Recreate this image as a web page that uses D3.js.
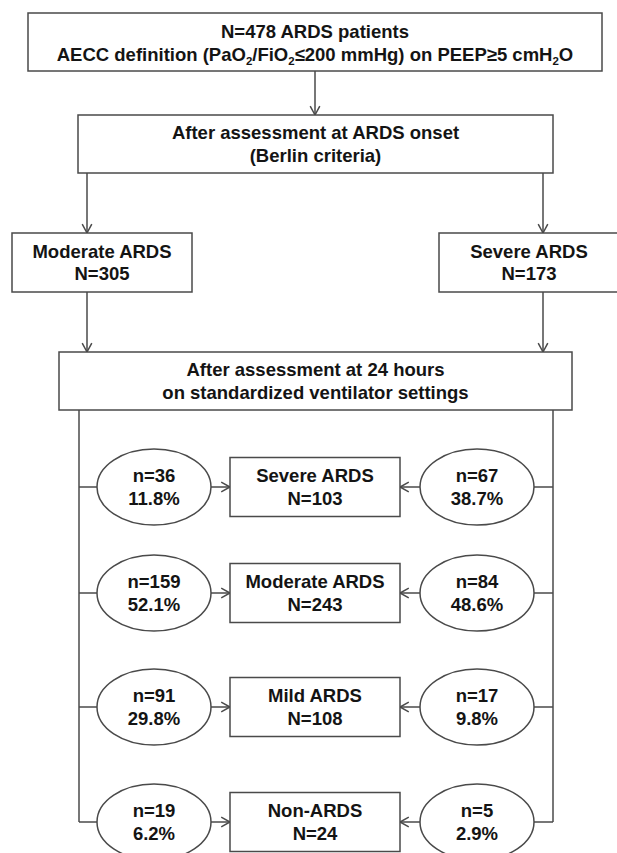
<!DOCTYPE html>
<html>
<head>
<meta charset="utf-8">
<script src="https://cdn.jsdelivr.net/npm/d3@7"></script>
<style>
  html, body { margin: 0; padding: 0; background: #fff; }
  svg { display: block; }
  text { font-family: "Liberation Sans", Arial, sans-serif; font-weight: bold; fill: #141414; }
</style>
</head>
<body>
<div id="chart"></div>
<script>
// ---------- data ----------
const totalN = 478;
const onsetCategories = ["Moderate ARDS", "Severe ARDS"];
const onsetCounts = [305, 173];
const outcomeCategories = ["Severe ARDS", "Moderate ARDS", "Mild ARDS", "Non-ARDS"];
const outcomeTotals = [103, 243, 108, 24];
const fromModerateN = [36, 159, 91, 19];
const fromModeratePct = ["11.8", "52.1", "29.8", "6.2"];
const fromSevereN = [67, 84, 17, 5];
const fromSeverePct = ["38.7", "48.6", "9.8", "2.9"];

// ---------- layout ----------
const W = 617, H = 853;
const FS = 18.5, LH = 22.5;
const stroke = "#4a4a4a", sw = 1.5;

const svg = d3.select("#chart").append("svg").attr("width", W).attr("height", H);

const rowY = d3.scaleOrdinal().domain(outcomeCategories).range([487, 593, 707, 822]);
const onsetX = d3.scaleOrdinal().domain(onsetCategories).range([102, 529]);
const onsetArrowX = d3.scaleOrdinal().domain(onsetCategories).range([87, 543]);

function box(x, y, w, h) {
  svg.append("rect").attr("x", x).attr("y", y).attr("width", w).attr("height", h)
    .attr("fill", "#fff").attr("stroke", stroke).attr("stroke-width", sw);
}
function line(x1, y1, x2, y2) {
  svg.append("line").attr("x1", x1).attr("y1", y1).attr("x2", x2).attr("y2", y2)
    .attr("stroke", stroke).attr("stroke-width", sw);
}
function arrow(x1, y1, x2, y2) {
  line(x1, y1, x2, y2);
  const a = Math.atan2(y2 - y1, x2 - x1), L = 10, spread = 0.5;
  const p = d3.path();
  p.moveTo(x2 - L * Math.cos(a - spread), y2 - L * Math.sin(a - spread));
  p.lineTo(x2, y2);
  p.lineTo(x2 - L * Math.cos(a + spread), y2 - L * Math.sin(a + spread));
  svg.append("path").attr("d", p.toString()).attr("fill", "none")
    .attr("stroke", stroke).attr("stroke-width", sw);
}
function lines(cx, cy, arr) {
  const t = svg.append("text").attr("text-anchor", "middle").attr("font-size", FS);
  const y0 = cy - (arr.length - 1) * LH / 2;
  arr.forEach((s, i) => {
    t.append("tspan").attr("x", cx).attr("y", y0 + i * LH).attr("dy", "0.35em").text(s);
  });
  return t;
}

// ---------- top box ----------
box(28, 13, 574, 58);
svg.append("text").attr("text-anchor", "middle").attr("font-size", FS)
  .attr("x", 315).attr("y", 32).attr("dy", "0.35em").text(`N=${totalN} ARDS patients`);
const parts = [["AECC definition (PaO", 0], ["2", 1], ["/FiO", 0], ["2", 1], ["≤200 mmHg) on PEEP≥5 cmH", 0], ["2", 1], ["O", 0]];
const l2t = svg.append("text").attr("text-anchor", "middle").attr("font-size", FS)
  .attr("x", 315).attr("y", 54.5 + 6.5);
let prevSub = 0;
parts.forEach(([s, sub]) => {
  const ts = l2t.append("tspan").text(s);
  if (sub) { ts.attr("font-size", FS * 0.62).attr("dy", 4); }
  else if (prevSub) { ts.attr("dy", -4); }
  prevSub = sub;
});

arrow(315, 71, 315, 115);

// ---------- onset assessment ----------
box(78, 115, 475, 58);
lines(315.5, 144, ["After assessment at ARDS onset", "(Berlin criteria)"]);

onsetCategories.forEach((c, i) => {
  const ax = onsetArrowX(c);
  arrow(ax, 173, ax, 233);
  const cx = onsetX(c);
  box(cx - 90, 233, 180, 59);
  lines(cx, 262.5, [c, `N=${onsetCounts[i]}`]);
  arrow(ax, 292, ax, 352);
});

// ---------- 24h assessment ----------
box(59, 352, 513, 58);
lines(315.5, 381, ["After assessment at 24 hours", "on standardized ventilator settings"]);

const leftX = 79, rightX = 553;
const lastY = rowY(outcomeCategories[outcomeCategories.length - 1]);
line(leftX, 410, leftX, lastY);
line(rightX, 410, rightX, lastY);

const ex = 57, ey = 38;
const lcx = 154, rcx = 477;
const bx0 = 230, bx1 = 400, bh = 59;

outcomeCategories.forEach((c, i) => {
  const y = rowY(c);
  // left branch
  line(leftX, y, lcx - ex, y);
  svg.append("ellipse").attr("cx", lcx).attr("cy", y).attr("rx", ex).attr("ry", ey)
    .attr("fill", "#fff").attr("stroke", stroke).attr("stroke-width", sw);
  lines(lcx, y, [`n=${fromModerateN[i]}`, `${fromModeratePct[i]}%`]);
  arrow(lcx + ex, y, bx0, y);
  // right branch
  line(rightX, y, rcx + ex, y);
  svg.append("ellipse").attr("cx", rcx).attr("cy", y).attr("rx", ex).attr("ry", ey)
    .attr("fill", "#fff").attr("stroke", stroke).attr("stroke-width", sw);
  lines(rcx, y, [`n=${fromSevereN[i]}`, `${fromSeverePct[i]}%`]);
  arrow(rcx - ex, y, bx1, y);
  // outcome box
  box(bx0, y - bh / 2, bx1 - bx0, bh);
  lines((bx0 + bx1) / 2, y, [c, `N=${outcomeTotals[i]}`]);
});
</script>
</body>
</html>
